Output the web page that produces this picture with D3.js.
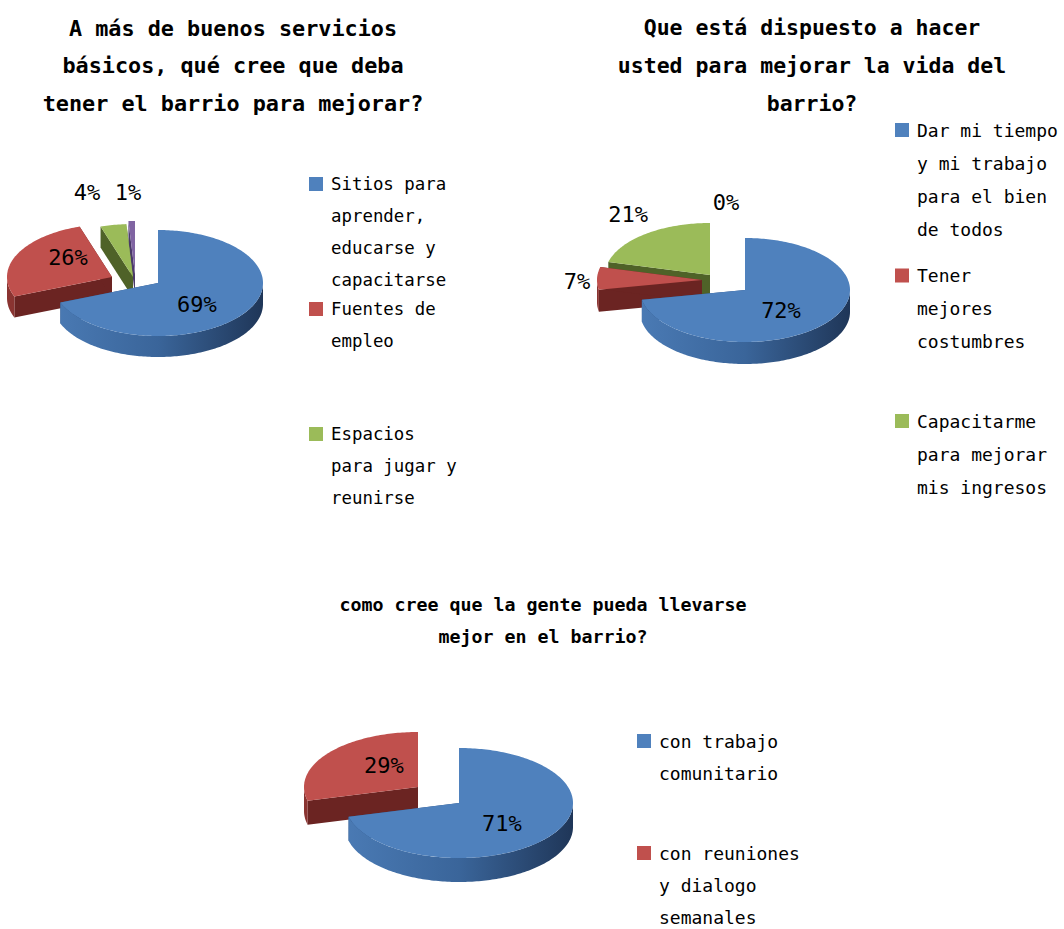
<!DOCTYPE html>
<html>
<meta charset="utf-8" />
<script src="https://d3js.org/d3.v7.min.js"></script>
<style>
  body { margin: 0; background: #fff; }
  text { font-family: "DejaVu Sans Mono", "Liberation Mono", monospace; fill: #000; }
</style>
<body>
<svg id="chart" width="1064" height="929"></svg>
<script>
// ---- data ----
const title1 = ["A más de buenos servicios", "básicos, qué cree que deba", "tener el barrio para mejorar?"];
const legend1 = [["Sitios para", "aprender,", "educarse y", "capacitarse"], ["Fuentes de", "empleo"], ["Espacios", "para jugar y", "reunirse"]];
const values1 = [69, 26, 4, 1];

const title2 = ["Que está dispuesto a hacer", "usted para mejorar la vida del", "barrio?"];
const legend2 = [["Dar mi tiempo", "y mi trabajo", "para el bien", "de todos"], ["Tener", "mejores", "costumbres"], ["Capacitarme", "para mejorar", "mis ingresos"]];
const values2 = [72, 7, 21, 0];

const title3 = ["como cree que la gente pueda llevarse", "mejor en el barrio?"];
const legend3 = [["con trabajo", "comunitario"], ["con reuniones", "y dialogo", "semanales"]];
const values3 = [71, 29];

const topColors = ["#4f81bd", "#c0504d", "#9bbb59", "#8064a2"];
const wallColors = ["#2d5080", "#6b2422", "#4f6228", "#4b3a6a"];
const sideStops = [
  ["#4a7ab4", "#3a659a", "#1f3658"],
  ["#8a3431", "#742a28", "#5e1c1b"],
  ["#607a30", "#4f6228", "#3f5020"],
  ["#6a5290", "#553f78", "#3d2f55"]
];

// ---- layout ----
const pie1 = { id: "p1", cx: 158, cy: 283, rx: 105, ry: 53, depth: 21,
  explode: [[0, 0], [-46, -6], [-25, -6], [-23, -9]],
  labels: [[0.37, 0.415], [-0.857, -0.49], [-0.676, -1.7], [-0.286, -1.7]] };
const pie2 = { id: "p2", cx: 745, cy: 290, rx: 105, ry: 52, depth: 22,
  explode: [[0, 0], [-43, -10], [-35, -15], [0, 0]],
  labels: [[0.343, 0.385], [-1.6, -0.173], [-1.114, -1.46], [-0.181, -1.69]] };
const pie3 = { id: "p3", cx: 459, cy: 803, rx: 114, ry: 55, depth: 24,
  explode: [[0, 0], [-41, -16]],
  labels: [[0.377, 0.364], [-0.658, -0.69]] };

const svg = d3.select("#chart");
const defs = svg.append("defs");

function drawTitle(lines, x, y0, lh, size) {
  svg.append("g").selectAll("text").data(lines).enter().append("text")
    .attr("x", x).attr("y", (d, i) => y0 + i * lh)
    .attr("text-anchor", "middle").attr("dominant-baseline", "central")
    .attr("font-size", size).attr("font-weight", "bold")
    .text(d => d);
}

function drawLegend(items, sqX, txX, y0, lh, gap, size) {
  const g = svg.append("g");
  items.forEach((lines, i) => {
    const y = y0 + i * gap;
    g.append("rect").attr("x", sqX).attr("y", y - 7).attr("width", 14).attr("height", 14)
      .attr("fill", topColors[i]);
    g.selectAll(null).data(lines).enter().append("text")
      .attr("x", txX).attr("y", (d, j) => y + j * lh)
      .attr("dominant-baseline", "central").attr("font-size", size)
      .text(d => d);
  });
}

function drawPie(values, L) {
  const arcs = d3.pie().sort(null).value(d => d)(values);
  const g = svg.append("g");
  const line = d3.line();

  sideStops.forEach((s, i) => {
    const gr = defs.append("linearGradient").attr("id", L.id + "side" + i)
      .attr("gradientUnits", "userSpaceOnUse")
      .attr("x1", L.cx - L.rx).attr("x2", L.cx + L.rx).attr("y1", 0).attr("y2", 0);
    gr.selectAll("stop").data(s).enter().append("stop")
      .attr("offset", (d, k) => k / (s.length - 1)).attr("stop-color", d => d);
  });

  // back slices first
  const order = arcs.map((a, i) => i).filter(i => values[i] > 0)
    .sort((a, b) => {
      const ma = (arcs[a].startAngle + arcs[a].endAngle) / 2;
      const mb = (arcs[b].startAngle + arcs[b].endAngle) / 2;
      return (-Math.cos(ma) * L.ry + L.explode[a][1]) - (-Math.cos(mb) * L.ry + L.explode[b][1]);
    });

  order.forEach(i => {
    const a = arcs[i];
    const ox = L.cx + L.explode[i][0], oy = L.cy + L.explode[i][1];
    const pt = (ang, dz) => [ox + L.rx * Math.sin(ang), oy - L.ry * Math.cos(ang) + (dz || 0)];
    const samples = (a0, a1, dz) => {
      const n = Math.max(2, Math.ceil((a1 - a0) / 0.02));
      return d3.range(n + 1).map(k => pt(a0 + (a1 - a0) * k / n, dz));
    };

    // radial walls
    [a.startAngle, a.endAngle].forEach(ang => {
      g.append("path")
        .attr("d", line([[ox, oy], pt(ang), pt(ang, L.depth), [ox, oy + L.depth]]) + "Z")
        .attr("fill", wallColors[i]);
    });

    // outer wall (front half only)
    const b0 = Math.max(a.startAngle, Math.PI / 2), b1 = Math.min(a.endAngle, 3 * Math.PI / 2);
    if (b1 > b0) {
      const pts = samples(b0, b1, 0).concat(samples(b0, b1, L.depth).reverse());
      g.append("path").attr("d", line(pts) + "Z")
        .attr("fill", `url(#${L.id}side${i})`);
    }

    // top face
    const top = [[ox, oy]].concat(samples(a.startAngle, a.endAngle, 0));
    g.append("path").attr("d", line(top) + "Z").attr("fill", topColors[i]);
  });

  // data labels
  g.selectAll(".lbl").data(values).enter().append("text")
    .attr("class", "lbl")
    .attr("x", (d, i) => L.cx + L.labels[i][0] * L.rx)
    .attr("y", (d, i) => L.cy + L.labels[i][1] * L.ry)
    .attr("text-anchor", "middle").attr("dominant-baseline", "central")
    .attr("font-size", 22)
    .text(d => d + "%");
}

drawTitle(title1, 233, 28, 37.5, 21.8);
drawTitle(title2, 812, 27, 38, 21.5);
drawTitle(title3, 543, 604, 32, 18.3);

drawPie(values1, pie1);
drawPie(values2, pie2);
drawPie(values3, pie3);

drawLegend(legend1, 309, 331, 184, 32, 125, 17.4);
drawLegend(legend2, 895, 917, 130, 33, 145.5, 18);
drawLegend(legend3, 637, 659, 741, 32, 112, 18);
</script>
</body>
</html>
